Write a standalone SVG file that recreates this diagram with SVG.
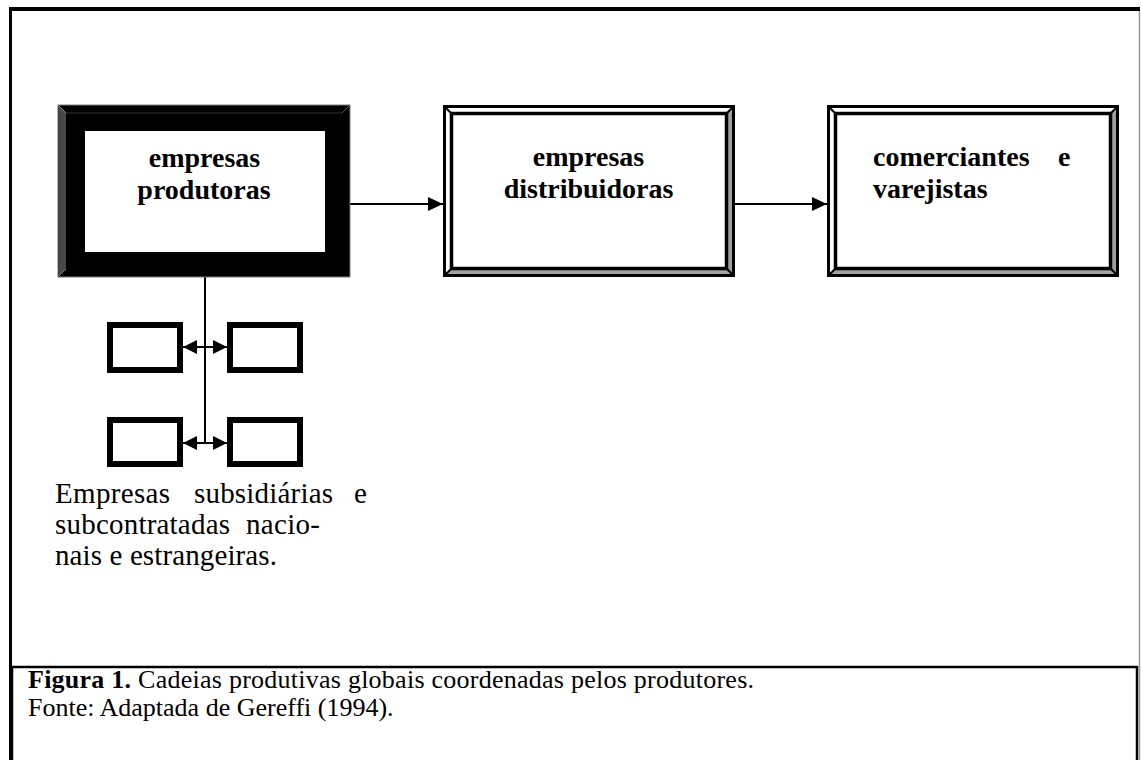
<svg xmlns="http://www.w3.org/2000/svg" width="1141" height="760" viewBox="0 0 1141 760">
  <style>
    .bold { font-family: "Liberation Serif", "Times New Roman", serif; font-weight: bold; font-size: 28px; fill: #000; }
    .body { font-family: "Liberation Serif", "Times New Roman", serif; font-size: 29px; fill: #000; }
    .cap { font-family: "Liberation Serif", "Times New Roman", serif; font-size: 26px; fill: #000; }
    .conn { stroke: #000; stroke-width: 2; fill: none; }
    .small { fill: #fff; stroke: #000; stroke-width: 6; }
  </style>
  <defs>
    <marker id="arr" markerUnits="userSpaceOnUse" viewBox="0 0 15 14" refX="15" refY="7" markerWidth="15" markerHeight="14" orient="auto-start-reverse">
      <polygon points="0,0 15,7 0,14" fill="#000"/>
    </marker>
    <marker id="arrS" markerUnits="userSpaceOnUse" viewBox="0 0 14 14" refX="14" refY="7" markerWidth="14" markerHeight="14" orient="auto-start-reverse">
      <polygon points="0,0 14,7 0,14" fill="#000"/>
    </marker>
    <g id="frame">
      <rect x="1.5" y="1.5" width="289" height="169" fill="#fff" stroke="#000" stroke-width="3"/>
      <polygon points="289,3 289,169 283.5,163.5 283.5,8.5" fill="#a0a0a0"/>
      <polygon points="3,169 289,169 283.5,163.5 8.5,163.5" fill="#a0a0a0"/>
      <rect x="8.5" y="8.5" width="275" height="155" fill="#fff" stroke="#000" stroke-width="3.5"/>
      <line x1="0.5" y1="0.5" x2="8.5" y2="8.5" stroke="#000" stroke-width="2"/>
      <line x1="291.5" y1="0.5" x2="283.5" y2="8.5" stroke="#000" stroke-width="2"/>
      <line x1="0.5" y1="171.5" x2="8.5" y2="163.5" stroke="#000" stroke-width="2"/>
      <line x1="291.5" y1="171.5" x2="283.5" y2="163.5" stroke="#000" stroke-width="2"/>
    </g>
  </defs>

  <rect x="0" y="0" width="1141" height="760" fill="#fff"/>

  <g id="outer-frame">
    <line x1="9" y1="9" x2="1140" y2="9" stroke="#000" stroke-width="4"/>
    <line x1="10.5" y1="7" x2="10.5" y2="760" stroke="#000" stroke-width="3"/>
    <line x1="1139.5" y1="11" x2="1139.5" y2="760" stroke="#999" stroke-width="1.5"/>
  </g>

  <g id="connectors">
    <line class="conn" x1="350" y1="204" x2="443" y2="204" marker-end="url(#arr)"/>
    <line class="conn" x1="735" y1="204" x2="827" y2="204" marker-end="url(#arr)"/>
    <line class="conn" x1="205" y1="277" x2="205" y2="443"/>
    <line class="conn" x1="183" y1="347" x2="227" y2="347" marker-start="url(#arrS)" marker-end="url(#arrS)"/>
    <line class="conn" x1="183" y1="443" x2="227" y2="443" marker-start="url(#arrS)" marker-end="url(#arrS)"/>
  </g>

  <g id="node-produtoras">
    <rect x="58" y="105" width="292" height="172" fill="#000" stroke="#7a7a7a" stroke-width="1"/>
    <polygon points="58.5,105.5 66,113 66,269 58.5,276.5" fill="#484848"/>
    <line x1="58.5" y1="105.5" x2="66" y2="113" stroke="#888" stroke-width="1"/>
    <line x1="66" y1="113" x2="342" y2="113" stroke="#333" stroke-width="1"/>
    <line x1="349.5" y1="105.5" x2="342" y2="113" stroke="#555" stroke-width="1"/>
    <line x1="58.5" y1="276.5" x2="66" y2="269" stroke="#777" stroke-width="1"/>
    <rect x="85" y="131" width="240" height="121" fill="#fff"/>
    <text class="bold" x="204.5" y="167" text-anchor="middle">empresas</text>
    <text class="bold" x="204" y="199" text-anchor="middle">produtoras</text>
  </g>

  <g id="node-distribuidoras">
    <use href="#frame" x="443" y="105"/>
    <text class="bold" x="588.5" y="166" text-anchor="middle">empresas</text>
    <text class="bold" x="588.5" y="198" text-anchor="middle">distribuidoras</text>
  </g>

  <g id="node-comerciantes">
    <use href="#frame" x="827" y="105"/>
    <text class="bold" y="166"><tspan x="873">comerciantes</tspan><tspan x="1058">e</tspan></text>
    <text class="bold" x="873" y="198">varejistas</text>
  </g>

  <g id="node-sub-1"><rect class="small" x="110" y="325" width="70" height="45"/></g>
  <g id="node-sub-2"><rect class="small" x="230" y="325" width="70" height="45"/></g>
  <g id="node-sub-3"><rect class="small" x="110" y="420" width="70" height="44"/></g>
  <g id="node-sub-4"><rect class="small" x="230" y="420" width="70" height="44"/></g>

  <g id="sub-label">
    <text class="body" y="503"><tspan x="55" textLength="115">Empresas</tspan><tspan x="194" textLength="139">subsidiárias</tspan><tspan x="354">e</tspan></text>
    <text class="body" y="534"><tspan x="55" textLength="175">subcontratadas</tspan><tspan x="246" textLength="74">nacio-</tspan></text>
    <text class="body" x="55" y="565" textLength="222">nais e estrangeiras.</text>
  </g>

  <g id="caption">
    <rect x="12" y="667" width="1125" height="100" fill="none" stroke="#000" stroke-width="2.5"/>
    <text class="cap" x="28" y="688" textLength="726"><tspan font-weight="bold">Figura 1.</tspan> Cadeias produtivas globais coordenadas pelos produtores.</text>
    <text class="cap" x="28" y="716">Fonte: Adaptada de Gereffi (1994).</text>
  </g>
</svg>
